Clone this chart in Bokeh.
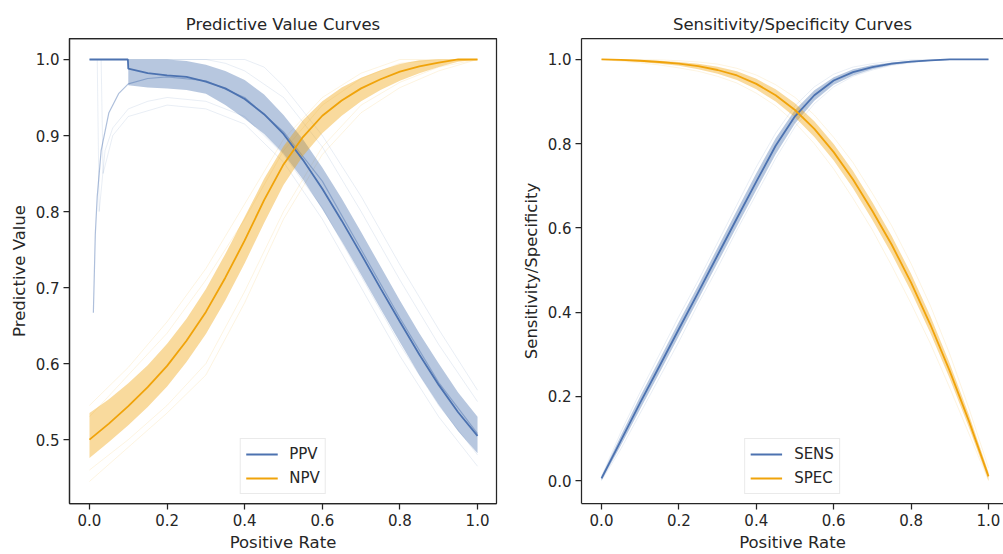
from bokeh.plotting import figure
from bokeh.layouts import row
from bokeh.models import Range1d, LinearAxis, FixedTicker, PrintfTickFormatter
from bokeh.embed import file_html
from bokeh.resources import INLINE

# ---------------- data ----------------
# Left panel: predictive values vs positive rate
ppv_x = [0.0, 0.05, 0.099, 0.1, 0.15, 0.2, 0.25, 0.3, 0.35, 0.4, 0.45, 0.5, 0.55, 0.6, 0.65, 0.7, 0.75, 0.8, 0.85, 0.9, 0.95, 1.0]
ppv_mean = [1.0, 1.0, 1.0, 0.988, 0.982, 0.979, 0.977, 0.971, 0.962, 0.948, 0.928, 0.902, 0.868, 0.830, 0.788, 0.744, 0.699, 0.655, 0.612, 0.572, 0.536, 0.505]
ppv_band_x = [0.1, 0.15, 0.2, 0.25, 0.3, 0.35, 0.4, 0.45, 0.5, 0.55, 0.6, 0.65, 0.7, 0.75, 0.8, 0.85, 0.9, 0.95, 1.0]
ppv_lo = [0.966, 0.963, 0.962, 0.960, 0.955, 0.940, 0.922, 0.902, 0.876, 0.842, 0.803, 0.761, 0.717, 0.672, 0.628, 0.585, 0.546, 0.511, 0.482]
ppv_hi = [1.0, 1.0, 1.0, 0.998, 0.993, 0.985, 0.973, 0.954, 0.927, 0.895, 0.858, 0.817, 0.773, 0.728, 0.683, 0.640, 0.600, 0.562, 0.530]

ppv_boot1_x = [0.01, 0.015, 0.02, 0.03, 0.05, 0.075, 0.1, 0.15, 0.2, 0.3, 0.4, 0.5, 0.6, 0.7, 0.8, 0.9, 1.0]
ppv_boot1 = [0.667, 0.77, 0.82, 0.88, 0.93, 0.955, 0.968, 0.975, 0.977, 0.972, 0.95, 0.905, 0.84, 0.75, 0.66, 0.575, 0.508]
ppv_boot2_x = [0.02, 0.025, 0.04, 0.06, 0.1, 0.15, 0.2, 0.3, 0.4, 0.5, 0.6, 0.7, 0.8, 0.9, 1.0]
ppv_boot2 = [1.0, 0.80, 0.88, 0.91, 0.935, 0.945, 0.95, 0.945, 0.925, 0.875, 0.805, 0.715, 0.625, 0.545, 0.48]
ppv_boot3_x = [0.03, 0.035, 0.06, 0.1, 0.2, 0.3, 0.4, 0.5, 0.6, 0.7, 0.8, 0.9, 1.0]
ppv_boot3 = [1.0, 0.85, 0.90, 0.925, 0.94, 0.935, 0.915, 0.865, 0.79, 0.70, 0.61, 0.53, 0.465]
ppv_boot4_x = [0.0, 0.3, 0.35, 0.4, 0.5, 0.6, 0.7, 0.8, 0.9, 1.0]
ppv_boot4 = [1.0, 1.0, 0.995, 0.985, 0.95, 0.885, 0.80, 0.71, 0.625, 0.55]
ppv_boot5_x = [0.0, 0.4, 0.45, 0.5, 0.6, 0.7, 0.8, 0.9, 1.0]
ppv_boot5 = [1.0, 1.0, 0.99, 0.965, 0.90, 0.82, 0.73, 0.645, 0.565]

npv_x = [0.0, 0.05, 0.1, 0.15, 0.2, 0.25, 0.3, 0.35, 0.4, 0.45, 0.5, 0.55, 0.6, 0.65, 0.7, 0.75, 0.8, 0.85, 0.9, 0.95, 1.0]
npv_mean = [0.500, 0.521, 0.544, 0.569, 0.597, 0.630, 0.668, 0.713, 0.762, 0.815, 0.862, 0.898, 0.926, 0.946, 0.962, 0.974, 0.984, 0.991, 0.996, 1.0, 1.0]
npv_lo = [0.476, 0.497, 0.519, 0.543, 0.570, 0.602, 0.639, 0.683, 0.732, 0.785, 0.835, 0.873, 0.903, 0.926, 0.945, 0.960, 0.972, 0.982, 0.990, 0.997, 1.0]
npv_hi = [0.535, 0.553, 0.574, 0.598, 0.626, 0.659, 0.698, 0.744, 0.793, 0.843, 0.886, 0.920, 0.945, 0.963, 0.976, 0.986, 0.994, 0.999, 1.0, 1.0, 1.0]

npv_boot_x = [0.0, 0.1, 0.2, 0.3, 0.4, 0.5, 0.6, 0.7, 0.8, 0.9, 1.0]
npv_boot1 = [0.445, 0.49, 0.535, 0.585, 0.68, 0.79, 0.875, 0.93, 0.963, 0.985, 1.0]
npv_boot2 = [0.46, 0.50, 0.545, 0.60, 0.695, 0.80, 0.885, 0.94, 0.97, 0.99, 1.0]
npv_boot3 = [0.53, 0.585, 0.64, 0.71, 0.79, 0.88, 0.94, 0.975, 0.995, 1.0, 1.0]
npv_boot4 = [0.545, 0.595, 0.655, 0.725, 0.81, 0.895, 0.95, 0.982, 1.0, 1.0, 1.0]

# Right panel: sensitivity / specificity vs positive rate
ss_x = [0.0, 0.05, 0.1, 0.15, 0.2, 0.25, 0.3, 0.35, 0.4, 0.45, 0.5, 0.55, 0.6, 0.65, 0.7, 0.75, 0.8, 0.85, 0.9, 0.95, 1.0]
sens_mean = [0.005, 0.095, 0.185, 0.272, 0.36, 0.447, 0.535, 0.623, 0.71, 0.795, 0.865, 0.915, 0.95, 0.97, 0.982, 0.99, 0.995, 0.998, 1.0, 1.0, 1.0]
sens_lo = [0.0, 0.083, 0.17, 0.256, 0.343, 0.43, 0.517, 0.604, 0.69, 0.775, 0.848, 0.902, 0.94, 0.962, 0.977, 0.987, 0.993, 0.997, 0.999, 1.0, 1.0]
sens_hi = [0.01, 0.107, 0.2, 0.288, 0.377, 0.464, 0.553, 0.642, 0.73, 0.813, 0.88, 0.927, 0.958, 0.977, 0.987, 0.993, 0.997, 0.999, 1.0, 1.0, 1.0]
spec_mean = [1.0, 0.999, 0.997, 0.994, 0.99, 0.984, 0.975, 0.962, 0.942, 0.915, 0.88, 0.835, 0.78, 0.715, 0.64, 0.56, 0.47, 0.37, 0.26, 0.14, 0.01]
spec_lo = [1.0, 0.997, 0.994, 0.99, 0.985, 0.977, 0.966, 0.951, 0.929, 0.9, 0.863, 0.816, 0.76, 0.694, 0.619, 0.538, 0.449, 0.35, 0.242, 0.125, 0.0]
spec_hi = [1.0, 1.0, 0.999, 0.997, 0.994, 0.99, 0.983, 0.972, 0.954, 0.929, 0.896, 0.853, 0.799, 0.735, 0.661, 0.581, 0.491, 0.39, 0.278, 0.155, 0.02]
sens_boot1 = [0.0, 0.075, 0.16, 0.245, 0.33, 0.42, 0.505, 0.595, 0.68, 0.765, 0.84, 0.895, 0.935, 0.96, 0.975, 0.986, 0.992, 0.997, 1.0, 1.0, 1.0]
sens_boot2 = [0.01, 0.115, 0.21, 0.3, 0.39, 0.475, 0.565, 0.655, 0.745, 0.825, 0.89, 0.935, 0.965, 0.982, 0.99, 0.996, 0.999, 1.0, 1.0, 1.0, 1.0]
spec_boot1 = [1.0, 0.996, 0.992, 0.987, 0.98, 0.972, 0.96, 0.944, 0.92, 0.89, 0.85, 0.80, 0.74, 0.67, 0.595, 0.51, 0.42, 0.325, 0.22, 0.11, 0.0]
spec_boot2 = [1.0, 1.0, 1.0, 0.999, 0.997, 0.994, 0.989, 0.979, 0.963, 0.94, 0.91, 0.868, 0.815, 0.755, 0.682, 0.605, 0.515, 0.415, 0.3, 0.17, 0.03]

x_ticks = [0.0, 0.2, 0.4, 0.6, 0.8, 1.0]
left_y_ticks = [0.5, 0.6, 0.7, 0.8, 0.9, 1.0]
right_y_ticks = [0.0, 0.2, 0.4, 0.6, 0.8, 1.0]

# ---------------- style ----------------
BLUE = "#4C72B0"
ORANGE = "#F0A30A"
INK = "#262626"
FONT = "DejaVu Sans"


def add_top_spine(p, color):
    top = LinearAxis(axis_line_color=color, axis_line_width=1.25,
                     major_tick_line_color=None, minor_tick_line_color=None,
                     major_tick_out=0, major_tick_in=0, minor_tick_out=0, minor_tick_in=0,
                     major_label_text_font_size="0px", major_label_standoff=0,
                     major_label_text_color=None)
    p.add_layout(top, "above")


def style_axes(p, yticks, ylabel):
    p.grid.visible = False
    xb = p.below[0]
    yl = p.left[0]
    xb.ticker = FixedTicker(ticks=x_ticks)
    yl.ticker = FixedTicker(ticks=yticks)
    xb.axis_label = "Positive Rate"
    yl.axis_label = ylabel
    for ax in (xb, yl):
        ax.formatter = PrintfTickFormatter(format="%.1f")
        ax.axis_line_color = INK
        ax.axis_line_width = 1.25
        ax.major_tick_line_color = INK
        ax.major_tick_line_width = 1.25
        ax.major_tick_out = 6
        ax.major_tick_in = 0
        ax.minor_tick_line_color = None
        ax.major_label_text_font = FONT
        ax.major_label_text_font_size = "15px"
        ax.major_label_text_color = INK
        ax.major_label_standoff = 4
        ax.axis_label_text_font = FONT
        ax.axis_label_text_font_size = "16.5px"
        ax.axis_label_text_font_style = "normal"
        ax.axis_label_text_color = INK
        ax.axis_label_standoff = 4
    p.title.text_font = FONT
    p.title.text_font_size = "16.5px"
    p.title.text_font_style = "normal"
    p.title.text_color = INK
    p.title.align = "center"


def style_legend(p):
    lg = p.legend[0]
    lg.location = "bottom_center"
    lg.label_text_font = FONT
    lg.label_text_font_size = "15px"
    lg.label_text_color = INK
    lg.border_line_color = "#d6d6d6"
    lg.border_line_width = 1
    lg.background_fill_alpha = 0.85
    lg.glyph_width = 32
    lg.glyph_height = 20
    lg.label_height = 20
    lg.label_standoff = 12
    lg.spacing = 4
    lg.padding = 5
    lg.margin = 9


# ---------------- left figure ----------------
p1 = figure(width=515, height=554, title="Predictive Value Curves",
            x_range=Range1d(-0.0515, 1.0489), y_range=Range1d(0.416, 1.0276),
            output_backend="svg", toolbar_location=None,
            min_border_left=69, min_border_right=19, min_border_top=38, min_border_bottom=50)
p1.outline_line_color = INK
p1.outline_line_width = 1.25
add_top_spine(p1, INK)

for bx, by in [(ppv_boot2_x, ppv_boot2), (ppv_boot3_x, ppv_boot3), (ppv_boot4_x, ppv_boot4), (ppv_boot5_x, ppv_boot5)]:
    p1.line(bx, by, color=BLUE, alpha=0.12, line_width=1)
for by in [npv_boot1, npv_boot2, npv_boot3, npv_boot4]:
    p1.line(npv_boot_x, by, color=ORANGE, alpha=0.12, line_width=1)
p1.line(ppv_boot1_x, ppv_boot1, color=BLUE, alpha=0.45, line_width=1.2)

p1.varea(x=ppv_band_x, y1=ppv_lo, y2=ppv_hi, fill_color=BLUE, fill_alpha=0.4)
p1.varea(x=npv_x, y1=npv_lo, y2=npv_hi, fill_color=ORANGE, fill_alpha=0.4)
p1.line(ppv_x, ppv_mean, color=BLUE, line_width=1.8, legend_label="PPV")
p1.line(npv_x, npv_mean, color=ORANGE, line_width=1.8, legend_label="NPV")

style_axes(p1, left_y_ticks, "Predictive Value")
style_legend(p1)

# ---------------- right figure ----------------
p2 = figure(width=488, height=554, title="Sensitivity/Specificity Curves",
            x_range=Range1d(-0.0517, 1.0388), y_range=Range1d(-0.0545, 1.0498),
            output_backend="svg", toolbar_location=None,
            min_border_left=66, min_border_right=0, min_border_top=38, min_border_bottom=50)
p2.outline_line_color = None
add_top_spine(p2, INK)

for by in [sens_boot1, sens_boot2]:
    p2.line(ss_x, by, color=BLUE, alpha=0.12, line_width=1)
for by in [spec_boot1, spec_boot2]:
    p2.line(ss_x, by, color=ORANGE, alpha=0.12, line_width=1)
p2.varea(x=ss_x, y1=sens_lo, y2=sens_hi, fill_color=BLUE, fill_alpha=0.4)
p2.varea(x=ss_x, y1=spec_lo, y2=spec_hi, fill_color=ORANGE, fill_alpha=0.4)
p2.line(ss_x, sens_mean, color=BLUE, line_width=1.8, legend_label="SENS")
p2.line(ss_x, spec_mean, color=ORANGE, line_width=1.8, legend_label="SPEC")

style_axes(p2, right_y_ticks, "Sensitivity/Specificity")
style_legend(p2)

layout = row(p1, p2)
open("out.html", "w").write(file_html(layout, INLINE))
